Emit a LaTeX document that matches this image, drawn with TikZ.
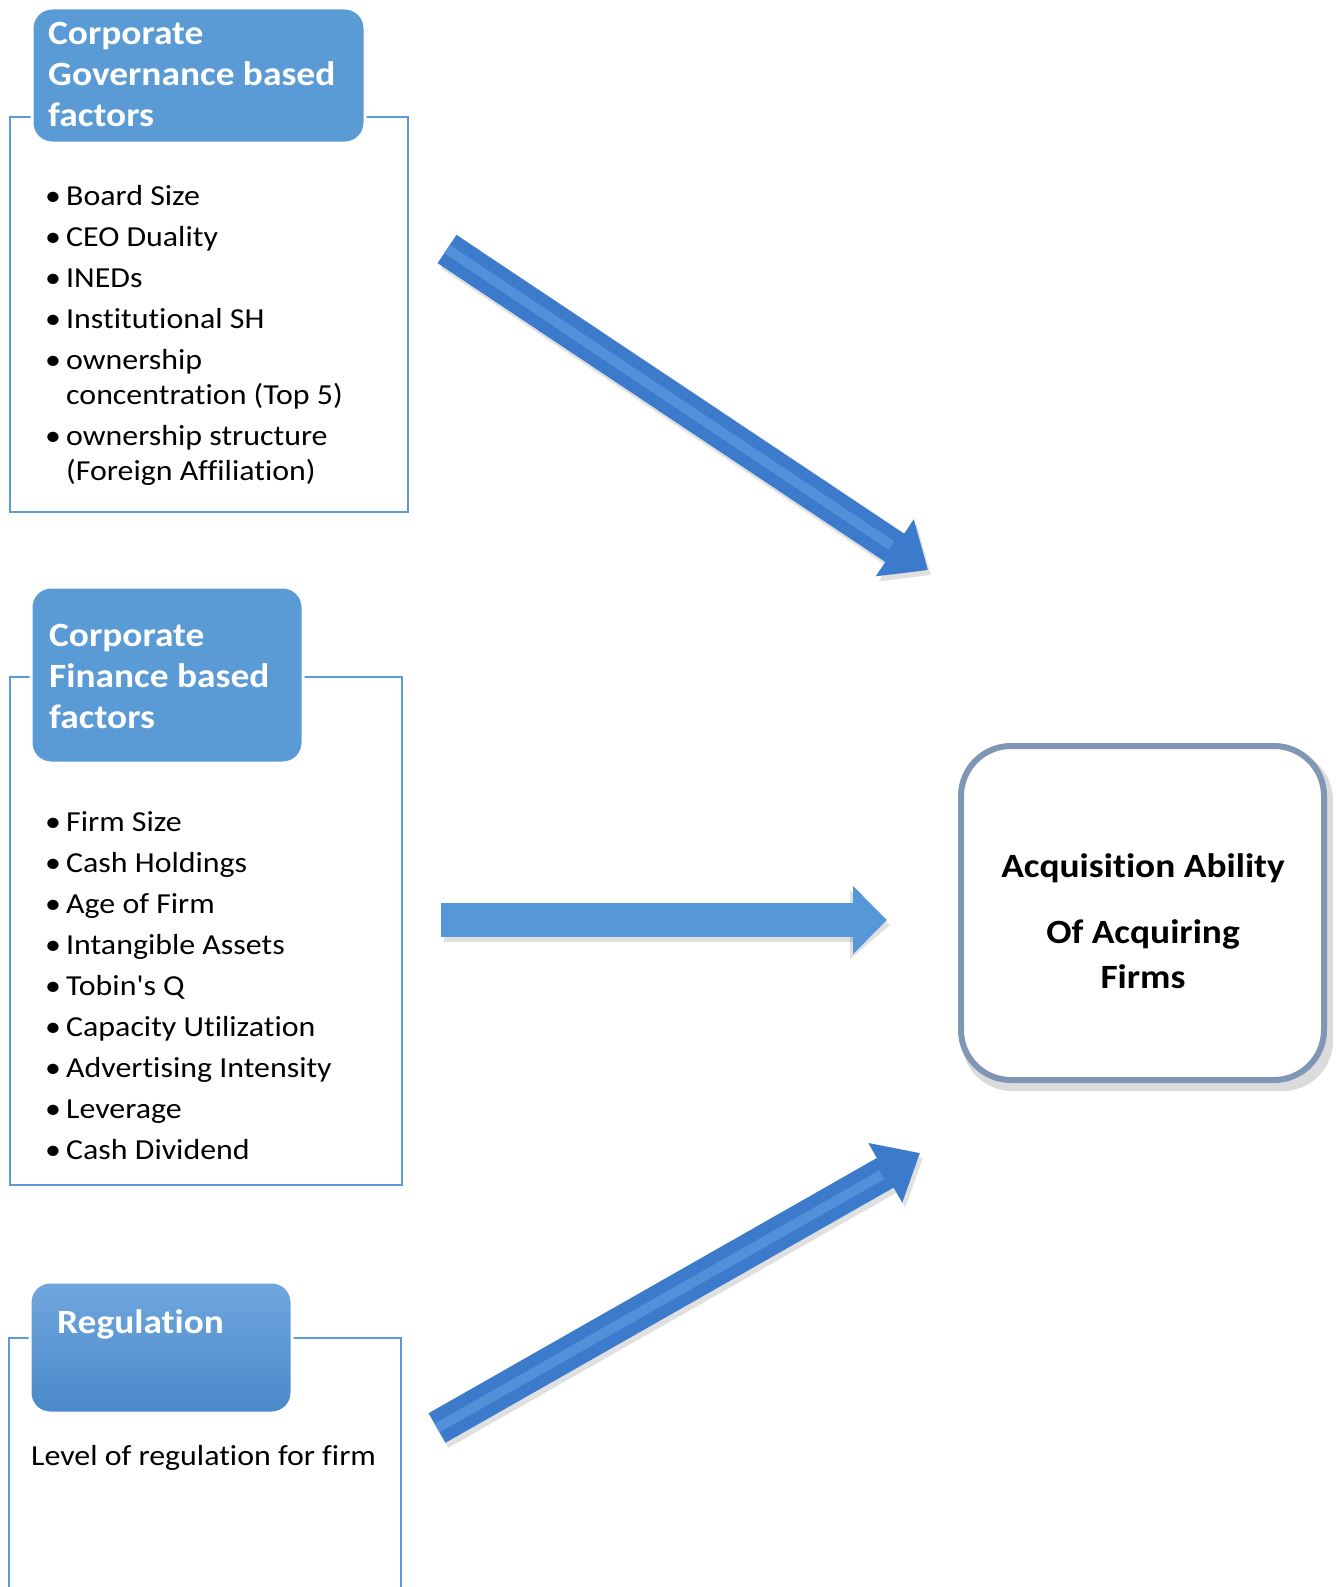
\documentclass[tikz,border=0pt]{standalone}
\usepackage{fontspec}
\setmainfont{Carlito}[FakeStretch=1.1, Ligatures={TeXOff,CommonOff}]
\usetikzlibrary{arrows.meta,calc}
\definecolor{frameblue}{HTML}{5B9BD5}
\definecolor{headblue}{HTML}{5B9BD5}
\definecolor{regtop}{HTML}{70A7DD}
\definecolor{regbot}{HTML}{4A89CB}
\definecolor{arrdark}{HTML}{3C7BCB}
\definecolor{arrlight}{HTML}{5B9BE0}
\definecolor{arrflat}{HTML}{5697D8}
\definecolor{resborder}{HTML}{7F96B5}
\tikzset{
  framebox/.style={draw=frameblue, line width=2pt, inner sep=0pt, outer sep=0pt},
  headbox/.style={fill=headblue, draw=white, line width=3pt, rounded corners=20pt, inner sep=0pt, outer sep=0pt},
  headtext/.style={text=white, font=\fontsize{34}{41}\bfseries\selectfont, inner sep=0pt, anchor=base west},
  bodytext/.style={text=black, inner sep=0pt, anchor=base west},
  diagarrow/.style={draw=arrdark, line width=34pt, -{Triangle[width=66pt,length=40pt]}},
  diaglight/.style={draw=arrlight, line width=10pt, opacity=0.7},
  flatarrow/.style={draw=arrflat, line width=34pt, -{Triangle[width=66pt,length=34pt]}},
  arrshadow/.style={draw=black, opacity=0.12, line width=34pt, -{Triangle[width=66pt,length=40pt]}},
  resultbox/.style={draw=resborder, line width=6pt, fill=white, rounded corners=50pt, inner sep=0pt},
  resulttext/.style={font=\fontsize{34}{40}\bfseries\selectfont, inner sep=0pt, anchor=base},
}
\newcommand{\bl}{\makebox[21pt][l]{•}}
\newcommand{\ind}{\hspace*{21pt}}
\begin{document}
\begin{tikzpicture}[x=1pt,y=-1pt]
\useasboundingbox (0,0) rectangle (1338,1587);
\fill[white] (0,0) rectangle (1338,1587);

% ---- Corporate governance section
\node[framebox, minimum width=398pt, minimum height=395pt, anchor=north west] (gframe) at (10,117) {};
\node[headbox, minimum width=333pt, minimum height=135pt, anchor=north west] (ghead) at (32,8) {};
\node[headtext] (gheadtxt) at (48,45) {\begin{tabular}[t]{@{}l@{}}Corporate\\Governance based\\factors\end{tabular}};
\node[bodytext] (glist) at (45,205) {\fontsize{29}{35.4}\selectfont\begin{tabular}[t]{@{}l@{}}
\bl Board Size\\[5.6pt]
\bl CEO Duality\\[5.6pt]
\bl INEDs\\[5.6pt]
\bl Institutional SH\\[5.6pt]
\bl ownership\\
\ind concentration (Top 5)\\[5.6pt]
\bl ownership structure\\
\ind (Foreign Affiliation)
\end{tabular}};

% ---- Corporate finance section
\node[framebox, minimum width=392pt, minimum height=508pt, anchor=north west] (fframe) at (10,677) {};
\node[headbox, minimum width=272pt, minimum height=176pt, anchor=north west] (fhead) at (31,587) {};
\node[headtext] (fheadtxt) at (49,646) {\begin{tabular}[t]{@{}l@{}}Corporate\\Finance based\\factors\end{tabular}};
\node[bodytext] (flist) at (45,831) {\fontsize{29}{41}\selectfont\begin{tabular}[t]{@{}l@{}}
\bl Firm Size\\
\bl Cash Holdings\\
\bl Age of Firm\\
\bl Intangible Assets\\
\bl Tobin's Q\\
\bl Capacity Utilization\\
\bl Advertising Intensity\\
\bl Leverage\\
\bl Cash Dividend
\end{tabular}};

% ---- Regulation section
\draw[draw=frameblue, line width=2pt] (9,1587) -- (9,1338) -- (401,1338) -- (401,1587);
\node[headbox, top color=regtop, bottom color=regbot, minimum width=262pt, minimum height=131pt, anchor=north west] (rhead) at (30,1282) {};
\node[headtext] (rheadtxt) at (57,1333) {Regulation};
\node[bodytext, font=\fontsize{29}{35}\selectfont] (rtxt) at (31,1465) {Level of regulation for firm};

% ---- Result box
\fill[black, opacity=0.14, rounded corners=50pt] (962,750) rectangle (1333,1091);
\node[resultbox, minimum width=363pt, minimum height=334pt] (res) at (1142.5,913) {};
\node[resulttext] (res1) at (1143,877) {Acquisition Ability};
\node[resulttext] (res2) at (1143,943) {Of Acquiring};
\node[resulttext] (res3) at (1143,988) {Firms};

% ---- Arrows
\coordinate (a1s) at (447,249);
\coordinate (a1e) at (928,570);
\coordinate (a2s) at (441,920);
\coordinate (a2e) at (887,920);
\coordinate (a3s) at (437,1428);
\coordinate (a3e) at (920,1153);

\draw[arrshadow] ([shift={(3,5)}]a1s) -- ([shift={(3,5)}]a1e);
\draw[arrshadow] ([shift={(3,5)}]a2s) -- ([shift={(3,5)}]a2e);
\draw[arrshadow] ([shift={(3,5)}]a3s) -- ([shift={(3,5)}]a3e);

\draw[diagarrow] (a1s) -- (a1e);
\draw[diaglight] (a1s) -- ($(a1e)!44pt!(a1s)$);
\draw[flatarrow] (a2s) -- (a2e);
\draw[diagarrow] (a3s) -- (a3e);
\draw[diaglight] (a3s) -- ($(a3e)!44pt!(a3s)$);
\end{tikzpicture}
\end{document}
